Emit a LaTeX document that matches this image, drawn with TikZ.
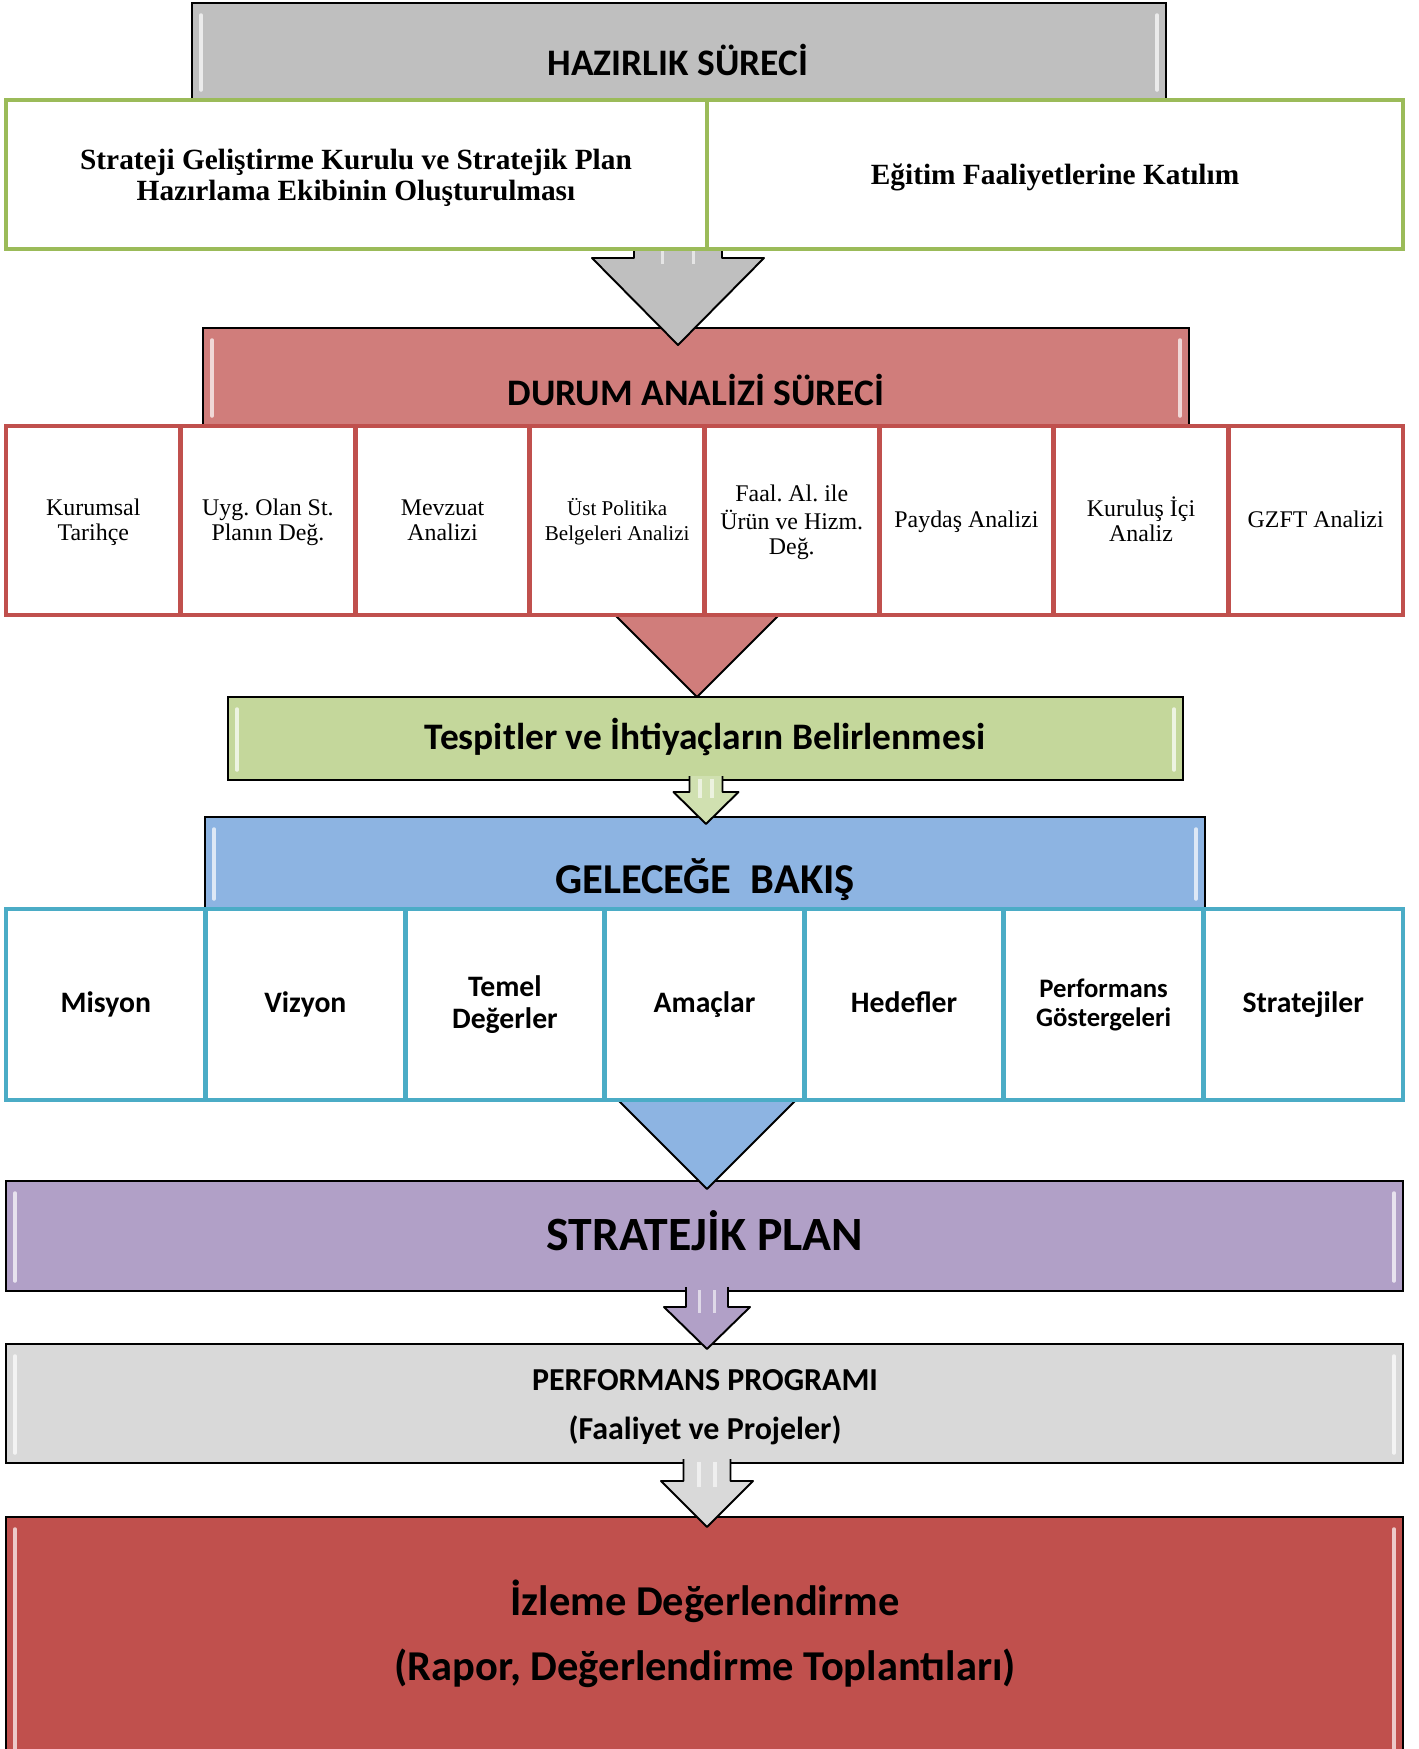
\documentclass[tikz,border=0pt]{standalone}
\usepackage{fontspec}
\setmainfont{Liberation Serif}
\newfontfamily\calibri{Carlito}

\definecolor{hazgray}{RGB}{191,191,191}
\definecolor{hazgreen}{RGB}{155,187,89}
\definecolor{durumfill}{RGB}{208,125,123}
\definecolor{durumline}{RGB}{192,80,77}
\definecolor{tespitfill}{RGB}{196,215,155}
\definecolor{arrgreen}{RGB}{208,224,176}
\definecolor{bakisfill}{RGB}{141,180,226}
\definecolor{bakisline}{RGB}{75,172,198}
\definecolor{planfill}{RGB}{177,160,199}
\definecolor{progfill}{RGB}{217,217,217}
\definecolor{izlemefill}{RGB}{192,80,77}

% white streaks inside the left and right edge of a bar
\newcommand{\sheen}[4]{%
  \draw[white, opacity=0.7, line width=2pt, line cap=round] (#1+9,#2+12) -- (#1+9,#4-10);
  \draw[white, opacity=0.7, line width=2pt, line cap=round] (#3-9,#2+12) -- (#3-9,#4-10);
}

% block arrow: centre x, top, head top, tip, half shaft, half head, fill
\newcommand{\blkarrow}[7]{%
  \fill[#7] (#1-#5,#2) -- (#1-#5,#3) -- (#1-#6,#3) -- (#1,#4) -- (#1+#6,#3) -- (#1+#5,#3) -- (#1+#5,#2) -- cycle;
  \draw[line width=1.1pt, line join=round] (#1-#5,#2) -- (#1-#5,#3) -- (#1-#6,#3) -- (#1,#4) -- (#1+#6,#3) -- (#1+#5,#3) -- (#1+#5,#2);
  \draw[white, opacity=0.6, line width=2pt] (#1-#5*0.35,#2+3) -- (#1-#5*0.35,#3+6);
  \draw[white, opacity=0.6, line width=2pt] (#1+#5*0.35,#2+3) -- (#1+#5*0.35,#3+6);
}

\tikzset{
  procbar/.style={draw=black, line width=1.1pt},
  cellbox/.style={fill=white, line width=2.8pt},
  boxtext/.style={inner sep=0pt, align=flush center},
  hdrfont/.style={font=\calibri\bfseries\fontsize{21.3}{23.5}\selectfont}
}

\begin{document}
\begin{tikzpicture}[x=0.02cm, y=-0.02cm]
\useasboundingbox (0,0) rectangle (1418,1749);

% Hazirlik sureci
\draw[procbar, fill=hazgray] (192,3) rectangle (1166,115);
\sheen{192}{3}{1166}{100}
\node[boxtext, hdrfont] (hazirlik) at (678,60) {HAZIRLIK SÜRECİ};

% Durum analizi header
\draw[procbar, fill=durumfill] (203,328) rectangle (1189,440);
\sheen{203}{328}{1189}{426}
\node[boxtext, hdrfont] (durum) at (696,390) {DURUM ANALİZİ SÜRECİ};

\blkarrow{678}{240}{258}{345}{44}{86}{hazgray}

% green boxes
\draw[cellbox, draw=hazgreen] (6,100) rectangle (707,249);
\draw[cellbox, draw=hazgreen] (707,100) rectangle (1403,249);
\node[boxtext, font=\bfseries\fontsize{16.7}{17.4}\selectfont] (kurul) at (356,178)
  {Strateji Geliştirme Kurulu ve Stratejik Plan\\Hazırlama Ekibinin Oluşturulması};
\node[boxtext, font=\bfseries\fontsize{16.7}{17.4}\selectfont] (egitim) at (1055,177)
  {Eğitim Faaliyetlerine Katılım};

\blkarrow{697}{560}{600}{697}{40}{97}{durumfill}

% durum analizi cells
\foreach \i/\fs/\txt in {0/13.6/{Kurumsal\\Tarihçe}, 1/13.6/{Uyg. Olan St.\\Planın Değ.},
    2/13.6/{Mevzuat\\Analizi}, 3/12/{Üst Politika\\Belgeleri Analizi},
    4/13.6/{Faal. Al. ile\\Ürün ve Hizm.\\Değ.}, 5/13.6/{Paydaş Analizi},
    6/13.6/{Kuruluş İçi\\Analiz}, 7/13.6/{GZFT Analizi}}{
  \draw[cellbox, draw=durumline] ({6+\i*174.625},426) rectangle ({6+(\i+1)*174.625},615);
  \node[boxtext, text width=3.3cm, font=\frenchspacing\fontsize{\fs}{14}\selectfont] (da\i) at ({6+(\i+0.5)*174.625},523) {\strut\txt\strut};
}

% tespitler
\draw[procbar, fill=tespitfill] (228,697) rectangle (1183,780);
\sheen{228}{697}{1183}{780}
\node[boxtext, hdrfont] (tespit) at (705,737) {Tespitler ve İhtiyaçların Belirlenmesi};

% gelecege bakis header
\draw[procbar, fill=bakisfill] (205,817) rectangle (1205,925);
\sheen{205}{817}{1205}{909}
\node[boxtext, font=\calibri\bfseries\fontsize{24.2}{26}\selectfont] (bakis) at (705,880) {GELECEĞE~~BAKIŞ};

\blkarrow{706}{776}{792}{824}{16.5}{32.5}{arrgreen}

% stratejik plan
\draw[procbar, fill=planfill] (6,1181) rectangle (1403,1291);
\sheen{6}{1181}{1403}{1291}
\node[boxtext, font=\calibri\bfseries\fontsize{27.2}{29}\selectfont] (plan) at (705,1231) {STRATEJİK PLAN};

\blkarrow{707}{1050}{1090}{1189}{40}{99}{bakisfill}

% gelecege bakis cells
\foreach \i/\fs/\ls/\txt in {0/16.9/18.4/Misyon, 1/16.9/18.4/Vizyon, 2/16.9/18.4/{Temel\\Değerler},
    3/16.9/18.4/Amaçlar, 4/16.9/18.4/Hedefler, 5/15.2/17/{Performans\\Göstergeleri},
    6/16.9/18.4/Stratejiler}{
  \draw[cellbox, draw=bakisline] ({6+\i*199.571},909) rectangle ({6+(\i+1)*199.571},1100);
  \node[boxtext, text width=3.7cm, font=\calibri\bfseries\fontsize{\fs}{\ls}\selectfont] (gb\i) at ({6+(\i+0.5)*199.571},1006) {\strut\txt\strut};
}

% performans programi
\draw[procbar, fill=progfill] (6,1344) rectangle (1403,1463);
\sheen{6}{1344}{1403}{1463}
\node[boxtext, font=\calibri\bfseries\fontsize{18.2}{27.9}\selectfont] (program) at (705,1407)
  {PERFORMANS PROGRAMI\\(Faaliyet ve Projeler)};

\blkarrow{707}{1287}{1307}{1349}{21}{43}{planfill}

% izleme degerlendirme
\draw[procbar, fill=izlemefill] (6,1517) rectangle (1403,1765);
\sheen{6}{1517}{1403}{1760}
\node[boxtext, font=\calibri\bfseries\fontsize{24.2}{37}\selectfont] (izleme) at (705,1634)
  {İzleme Değerlendirme\\(Rapor, Değerlendirme Toplantıları)};

\blkarrow{707}{1459}{1481}{1527}{23.5}{46}{progfill}
\end{tikzpicture}
\end{document}
